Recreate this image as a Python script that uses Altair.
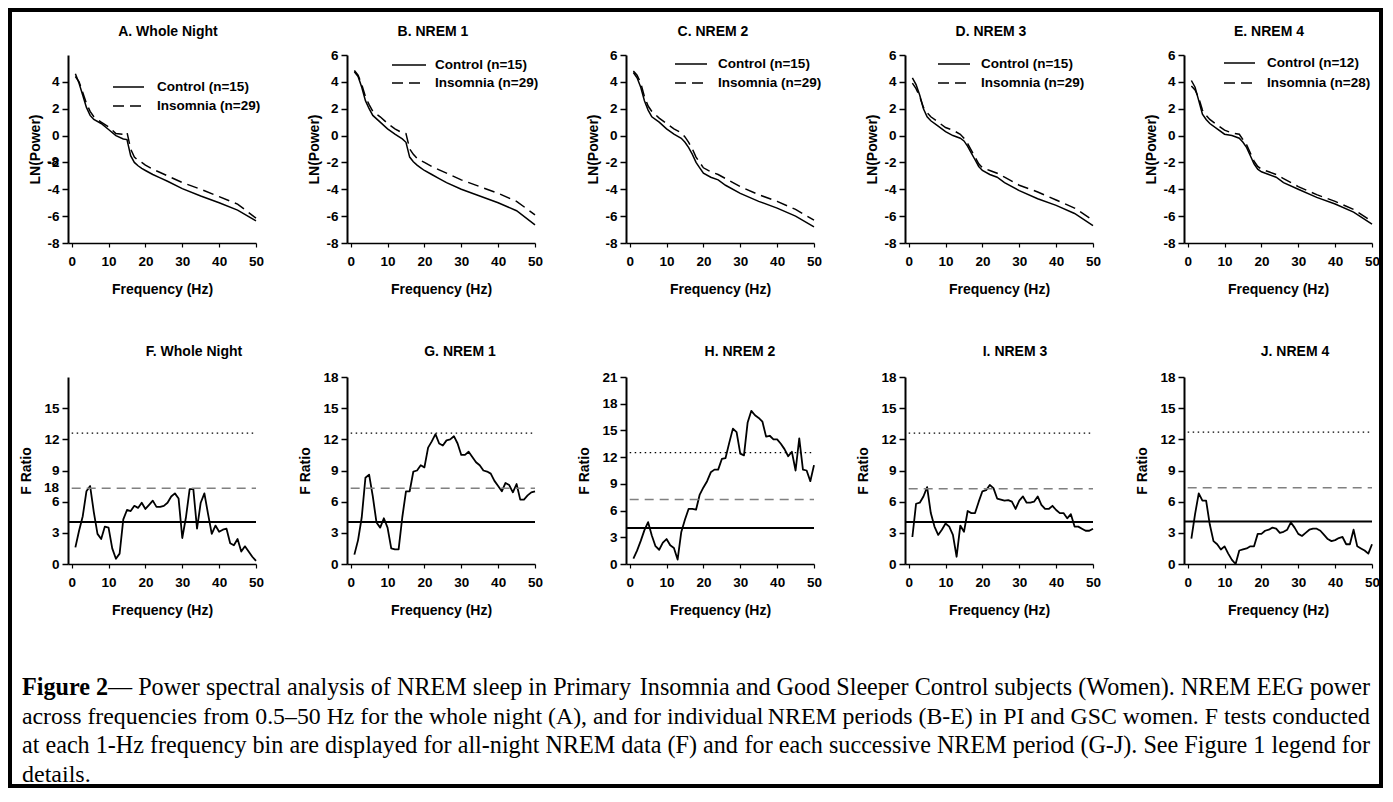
import altair as alt
import pandas as pd

FONT = "Liberation Sans"
SERIF = "Liberation Serif"

# ---------------- data: top row, LN(Power) ----------------
FREQ_TOP = [1, 2, 3, 4, 5, 6, 8, 10, 12, 14, 15, 16, 17, 18, 19, 20, 22, 24, 26, 30, 35, 40, 45, 50]

A_CONTROL = [4.6, 3.9, 3.0, 2.1, 1.5, 1.2, 0.9, 0.45, 0.0, -0.25, -0.3, -1.5, -2.0, -2.25, -2.45, -2.6, -2.9, -3.15, -3.4, -3.95, -4.5, -5.0, -5.55, -6.35]
A_INSOMNIA = [4.4, 4.0, 3.2, 2.4, 1.8, 1.4, 1.0, 0.65, 0.15, 0.1, 0.25, -1.0, -1.6, -1.85, -2.0, -2.2, -2.5, -2.75, -3.0, -3.5, -4.0, -4.55, -5.1, -6.15]
B_CONTROL = [4.75, 4.4, 3.6, 2.6, 2.0, 1.5, 1.0, 0.5, 0.1, -0.25, -0.5, -1.6, -1.95, -2.2, -2.4, -2.6, -2.9, -3.2, -3.5, -4.0, -4.5, -5.0, -5.6, -6.65]
B_INSOMNIA = [4.85, 4.5, 3.8, 2.9, 2.3, 1.8, 1.4, 0.9, 0.5, 0.2, 0.15, -1.0, -1.4, -1.7, -1.85, -2.0, -2.3, -2.55, -2.8, -3.3, -3.8, -4.3, -4.9, -5.9]
C_CONTROL = [4.7, 4.3, 3.6, 2.6, 1.9, 1.4, 1.0, 0.5, 0.1, -0.2, -0.5, -0.9, -1.4, -2.0, -2.4, -2.8, -3.1, -3.3, -3.7, -4.3, -4.9, -5.4, -6.0, -6.8]
C_INSOMNIA = [4.8, 4.5, 3.9, 2.9, 2.2, 1.8, 1.3, 0.9, 0.5, 0.2, -0.1, -0.5, -1.0, -1.6, -2.0, -2.4, -2.7, -2.9, -3.2, -3.8, -4.4, -4.9, -5.5, -6.3]
D_CONTROL = [4.3, 3.8, 3.0, 2.0, 1.4, 1.1, 0.7, 0.3, 0.0, -0.2, -0.4, -0.8, -1.3, -1.8, -2.3, -2.6, -2.9, -3.1, -3.5, -4.1, -4.7, -5.2, -5.8, -6.7]
D_INSOMNIA = [3.9, 3.5, 2.9, 2.1, 1.7, 1.4, 1.0, 0.6, 0.4, 0.1, -0.2, -0.6, -1.1, -1.6, -2.1, -2.4, -2.6, -2.8, -3.1, -3.7, -4.2, -4.8, -5.4, -6.3]
E_CONTROL = [4.1, 3.6, 2.6, 1.6, 1.2, 0.9, 0.5, 0.1, 0.0, -0.2, -0.5, -0.9, -1.5, -2.1, -2.5, -2.7, -2.9, -3.1, -3.5, -4.0, -4.6, -5.1, -5.7, -6.6]
E_INSOMNIA = [3.7, 3.4, 2.8, 1.9, 1.5, 1.2, 0.8, 0.4, 0.2, 0.1, -0.3, -0.7, -1.3, -1.9, -2.3, -2.5, -2.7, -2.9, -3.2, -3.8, -4.4, -4.9, -5.5, -6.4]

TOP_TITLES = ["A. Whole Night", "B. NREM 1", "C. NREM 2", "D. NREM 3", "E. NREM 4"]
LEGEND_LABELS = [
    ("Control (n=15)", "Insomnia (n=29)"),
    ("Control (n=15)", "Insomnia (n=29)"),
    ("Control (n=15)", "Insomnia (n=29)"),
    ("Control (n=15)", "Insomnia (n=29)"),
    ("Control (n=12)", "Insomnia (n=28)"),
]
TOP_Y_TICKS_A = [-8, -6, -4, -2, 0, 2, 4]
TOP_Y_TICKS = [-8, -6, -4, -2, 0, 2, 4, 6]
X_TICKS = [0, 10, 20, 30, 40, 50]
A_STRAY_LABEL = ("-8", -2)

# ---------------- data: bottom row, F ratio ----------------
FREQ_BOTTOM = [1, 2, 3, 4, 5, 6, 7, 8, 9, 10, 11, 12, 13, 14, 15, 16, 17, 18, 19, 20,
               21, 22, 23, 24, 25, 26, 27, 28, 29, 30, 31, 32, 33, 34, 35, 36, 37, 38, 39, 40,
               41, 42, 43, 44, 45, 46, 47, 48, 49, 50]
F_RATIO = [1.6, 3.2, 4.6, 7.0, 7.5, 5.0, 2.9, 2.4, 3.6, 3.5,
           1.5, 0.5, 1.0, 4.3, 5.2, 5.1, 5.6, 5.4, 5.9, 5.3,
           5.7, 6.1, 5.5, 5.5, 5.6, 5.9, 6.5, 6.8, 6.3, 2.5,
           4.5, 7.2, 7.2, 3.4, 5.9, 6.8, 4.8, 2.9, 3.7, 3.1,
           3.3, 3.4, 2.0, 1.8, 2.4, 1.2, 1.7, 1.2, 0.7, 0.3]
G_RATIO = [0.9, 2.3, 4.5, 8.3, 8.6, 6.5, 4.0, 3.5, 4.4, 3.5,
           1.5, 1.4, 1.4, 4.5, 7.0, 7.0, 8.9, 9.0, 9.5, 9.3,
           11.2, 11.8, 12.5, 11.6, 11.4, 11.9, 12.0, 12.3, 11.6, 10.5,
           10.5, 10.8, 10.3, 9.8, 9.5, 9.0, 8.9, 8.7, 8.0, 7.5,
           7.0, 7.8, 7.6, 6.9, 7.7, 6.2, 6.2, 6.6, 6.9, 7.0]
H_RATIO = [0.6, 1.5, 2.6, 3.8, 4.7, 3.2, 2.0, 1.6, 2.4, 2.8,
           2.1, 1.8, 0.5, 3.6, 5.0, 6.2, 6.2, 6.1, 7.8, 8.6,
           9.3, 10.3, 10.6, 10.6, 11.8, 11.9, 13.6, 15.2, 14.8, 12.4,
           12.2, 15.9, 17.2, 16.7, 16.4, 16.0, 14.3, 14.4, 14.0, 14.0,
           13.5, 12.9, 12.1, 12.6, 10.5, 14.1, 10.6, 10.5, 9.3, 11.1]
I_RATIO = [2.6, 5.8, 5.9, 6.5, 7.4, 4.9, 3.6, 2.8, 3.3, 3.9,
           3.6, 2.8, 0.7, 3.7, 3.1, 5.1, 4.9, 4.9, 6.0, 7.0,
           7.1, 7.6, 7.3, 6.3, 6.2, 6.1, 6.15, 6.0, 5.3, 6.1,
           6.5, 5.9, 5.9, 6.0, 6.5, 5.7, 5.3, 5.3, 5.6, 5.2,
           4.9, 4.9, 4.4, 4.8, 3.6, 3.6, 3.4, 3.2, 3.2, 3.4]
J_RATIO = [2.45, 4.8, 6.8, 6.1, 6.1, 3.8, 2.2, 1.9, 1.4, 1.7,
           1.0, 0.4, 0.0, 1.3, 1.4, 1.5, 1.7, 1.7, 2.9, 2.9,
           3.2, 3.3, 3.5, 3.4, 3.0, 3.1, 3.3, 4.0, 3.5, 2.9,
           2.7, 3.0, 3.3, 3.4, 3.4, 3.2, 2.8, 2.4, 2.2, 2.3,
           2.5, 2.6, 1.9, 1.9, 3.3, 1.7, 1.5, 1.3, 1.0, 1.9]

BOTTOM_TITLES = ["F. Whole Night", "G. NREM 1", "H. NREM 2", "I. NREM 3", "J. NREM 4"]
# significance thresholds (p<.05 solid, p<.01 dashed, p<.001 dotted)
REF_P05 = [4.05, 4.05, 4.05, 4.05, 4.1]
REF_P01 = [7.3, 7.3, 7.25, 7.25, 7.35]
REF_P001 = [12.6, 12.6, 12.5, 12.6, 12.7]
Y_MAX_BOTTOM = [18, 18, 21, 18, 18]
F_Y_TICKS = [0, 3, 6, 9, 12, 15]
G_Y_TICKS = [0, 3, 6, 9, 12, 15, 18]
H_Y_TICKS = [0, 3, 6, 9, 12, 15, 18, 21]
F_STRAY_LABEL = ("18", 7.3)

CAPTION_BOLD = "Figure 2"
CAPTION_LINES = [
    ("— Power spectral analysis of NREM sleep in Primary",
     "Insomnia and Good Sleeper Control subjects (Women). NREM EEG power"),
    ("across frequencies from 0.5–50 Hz for the whole night (A), and for individual",
     "NREM periods (B-E) in PI and GSC women. F tests conducted"),
    ("at each 1-Hz frequency bin are displayed for all-night NREM data (F) and",
     "for each successive NREM period (G-J). See Figure 1 legend for"),
    ("details.", ""),
]

# ---------------- layout / style (pixels) ----------------
W, H_TOP, H_BOT = 188, 188, 187
LEGEND_POS = [  # line x0, line x1, text x, row1 y, row2 y (relative to plot)
    (45, 76, 89, 32, 51),
    (45, 79, 88, 10, 28),
    (49, 81, 92, 9, 28),
    (33, 65, 76, 9, 28),
    (40, 71, 83, 8, 28),
]
TOP_TITLE_DX = [6, -8, -7, -8, -9]
BOT_TITLE_DX = [32, 19, 20, 16, 17]
TOP_TITLE_Y, BOT_TITLE_Y = -23, -25

ONE = pd.DataFrame({"k": [0]})
TXT = dict(font=FONT, fontWeight="bold", fontSize=13.5, color="black")
TTL = dict(font=FONT, fontWeight="bold", fontSize=14, color="black")


def x_axis():
    return alt.Axis(values=X_TICKS, title="Frequency (Hz)", grid=False,
                    domainColor="black", domainWidth=1.5, tickColor="black", tickWidth=1.2, tickSize=4,
                    labelPadding=7, labelFont=FONT, labelFontSize=13.5, labelFontWeight="bold",
                    labelColor="black", labelFlush=False, labelOverlap=False, labelBound=False,
                    titleFont=FONT, titleFontSize=14, titleFontWeight="bold", titleColor="black",
                    titlePadding=15)


def y_axis(values, title, pad):
    return alt.Axis(values=values, title=title, grid=False,
                    domainColor="black", domainWidth=2, tickColor="black", tickWidth=1.5, tickSize=6,
                    labelPadding=3, labelFont=FONT, labelFontSize=13.5, labelFontWeight="bold",
                    labelColor="black", labelExpr="'' + datum.value", labelFlush=False,
                    labelOverlap=False, labelBound=False,
                    titleFont=FONT, titleFontSize=14, titleFontWeight="bold", titleColor="black",
                    titlePadding=pad)


TOP_DATA = [(A_CONTROL, A_INSOMNIA), (B_CONTROL, B_INSOMNIA), (C_CONTROL, C_INSOMNIA),
            (D_CONTROL, D_INSOMNIA), (E_CONTROL, E_INSOMNIA)]


def top_panel(i):
    control, insomnia = TOP_DATA[i]
    n = len(FREQ_TOP)
    df = pd.DataFrame({"f": FREQ_TOP + FREQ_TOP, "v": control + insomnia,
                       "s": ["Control"] * n + ["Insomnia"] * n})
    yt = TOP_Y_TICKS_A if i == 0 else TOP_Y_TICKS
    yax = y_axis(yt, "LN(Power)", 4)
    x = alt.X("f:Q", scale=alt.Scale(domain=[-1, 50], nice=False, zero=False), axis=x_axis())
    y = alt.Y("v:Q", scale=alt.Scale(domain=[-8, 6], nice=False, zero=False), axis=yax)
    base = alt.Chart(df)
    solid = base.transform_filter(alt.datum.s == "Control").mark_line(
        color="black", strokeWidth=1.5).encode(x=x, y=y)
    dashed = base.transform_filter(alt.datum.s == "Insomnia").mark_line(
        color="black", strokeWidth=1.5, strokeDash=[11, 6]).encode(x=x, y=y)
    lx0, lx1, tx, ly0, ly1 = LEGEND_POS[i]
    one = alt.Chart(ONE)
    layers = [
        solid, dashed,
        one.mark_rule(color="black", strokeWidth=1.5).encode(
            x=alt.value(lx0), x2=alt.value(lx1), y=alt.value(ly0)),
        one.mark_rule(color="black", strokeWidth=1.5, strokeDash=[11, 6]).encode(
            x=alt.value(lx0), x2=alt.value(lx1), y=alt.value(ly1)),
        one.mark_text(align="left", baseline="middle", **TXT).encode(
            x=alt.value(tx), y=alt.value(ly0), text=alt.value(LEGEND_LABELS[i][0])),
        one.mark_text(align="left", baseline="middle", **TXT).encode(
            x=alt.value(tx), y=alt.value(ly1), text=alt.value(LEGEND_LABELS[i][1])),
        one.mark_text(align="center", baseline="middle", **TTL).encode(
            x=alt.value(W / 2 + TOP_TITLE_DX[i]), y=alt.value(TOP_TITLE_Y),
            text=alt.value(TOP_TITLES[i])),
    ]
    if i == 0:
        layers.append(one.mark_text(align="right", baseline="middle", **TXT).encode(
            x=alt.value(-9), y=alt.YDatum(A_STRAY_LABEL[1], axis=yax),
            text=alt.value(A_STRAY_LABEL[0])))
    return alt.layer(*layers).properties(width=W, height=H_TOP)


BOT_DATA = [F_RATIO, G_RATIO, H_RATIO, I_RATIO, J_RATIO]


def bottom_panel(i):
    df = pd.DataFrame({"f": FREQ_BOTTOM, "v": BOT_DATA[i]})
    yt = F_Y_TICKS if i == 0 else (H_Y_TICKS if i == 2 else G_Y_TICKS)
    yax = y_axis(yt, "F Ratio", 10)
    xax = x_axis()
    x = alt.X("f:Q", scale=alt.Scale(domain=[-1, 50], nice=False, zero=False), axis=xax)
    y = alt.Y("v:Q", scale=alt.Scale(domain=[0, Y_MAX_BOTTOM[i]], nice=False, zero=False), axis=yax)
    one = alt.Chart(ONE)
    layers = [
        alt.Chart(df).mark_line(color="black", strokeWidth=1.8, strokeJoin="round").encode(x=x, y=y),
        one.mark_rule(color="black", strokeWidth=1.3, strokeDash=[1.5, 3.5]).encode(
            x=alt.XDatum(0, axis=xax), x2=alt.X2Datum(50), y=alt.YDatum(REF_P001[i], axis=yax)),
        one.mark_rule(color="#808080", strokeWidth=1.5, strokeDash=[9, 6]).encode(
            x=alt.XDatum(0, axis=xax), x2=alt.X2Datum(50), y=alt.YDatum(REF_P01[i], axis=yax)),
        one.mark_rule(color="black", strokeWidth=2).encode(
            x=alt.XDatum(-1, axis=xax), x2=alt.X2Datum(50), y=alt.YDatum(REF_P05[i], axis=yax)),
        one.mark_text(align="center", baseline="middle", **TTL).encode(
            x=alt.value(W / 2 + BOT_TITLE_DX[i]), y=alt.value(BOT_TITLE_Y),
            text=alt.value(BOTTOM_TITLES[i])),
    ]
    if i == 0:
        layers.append(one.mark_text(align="right", baseline="middle", **TXT).encode(
            x=alt.value(-9), y=alt.YDatum(F_STRAY_LABEL[1], axis=yax),
            text=alt.value(F_STRAY_LABEL[0])))
    return alt.layer(*layers).properties(width=W, height=H_BOT)


# caption (positions relative to caption origin, which sits 134 px below the bottom row)
CAP_X0, CAP_X1 = -46, 1302
CAP_Y = [-10, 19, 48, 77]
CAP_SIZE = [24.15, 23.8, 24.15, 24.0]
BOLD_W = 86

one = alt.Chart(ONE)
cap_layers = [
    one.mark_rect(fillOpacity=0, stroke="black", strokeWidth=4).encode(
        x=alt.value(-58), x2=alt.value(1313), y=alt.value(-688), y2=alt.value(88)),
    one.mark_text(align="left", baseline="middle", font=SERIF, fontWeight="bold",
                  fontSize=CAP_SIZE[0], color="black").encode(
        x=alt.value(CAP_X0), y=alt.value(CAP_Y[0]), text=alt.value(CAPTION_BOLD)),
]
for k, (left, right) in enumerate(CAPTION_LINES):
    lx = CAP_X0 + (BOLD_W if k == 0 else 0)
    cap_layers.append(one.mark_text(align="left", baseline="middle", font=SERIF,
                                    fontSize=CAP_SIZE[k], color="black").encode(
        x=alt.value(lx), y=alt.value(CAP_Y[k]), text=alt.value(left)))
    if right:
        cap_layers.append(one.mark_text(align="right", baseline="middle", font=SERIF,
                                        fontSize=CAP_SIZE[k], color="black").encode(
            x=alt.value(CAP_X1), y=alt.value(CAP_Y[k]), text=alt.value(right)))
caption = alt.layer(*cap_layers).properties(width=1, height=1)

panels = [top_panel(i) for i in range(5)] + [bottom_panel(i) for i in range(5)] + [caption]

chart = alt.concat(*panels, columns=5, spacing={"row": 134, "column": 91}, bounds="flush").properties(
    padding=0).configure_view(strokeWidth=0)

chart.save("out.html", embed_options={"renderer": "svg", "actions": False})
